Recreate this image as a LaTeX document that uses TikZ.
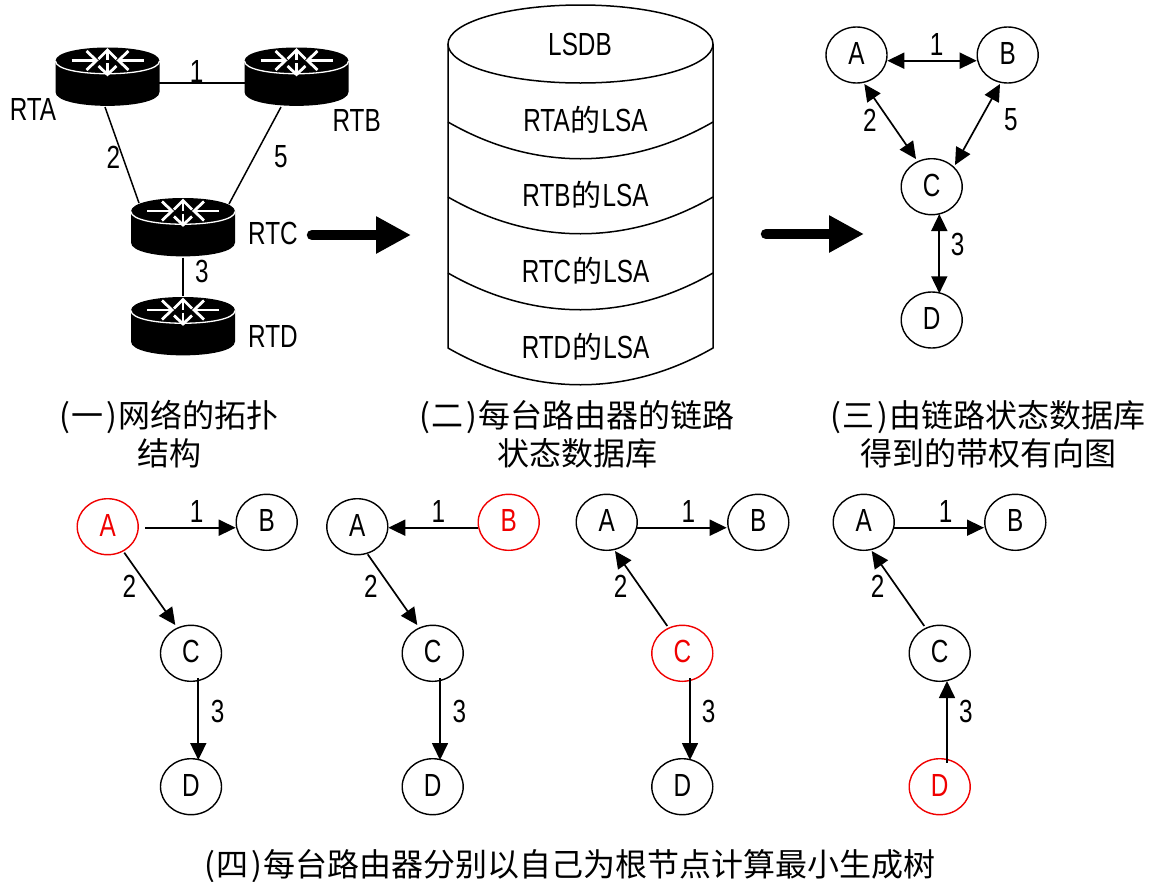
\documentclass[tikz,border=0pt]{standalone}
\usepackage{fontspec}
\setmainfont[FakeStretch=0.76]{Liberation Sans}
\newfontfamily\cjkf{Noto Sans CJK SC}
\usetikzlibrary{arrows.meta,calc,shapes.geometric}
\newcommand\lat{\fontsize{32}{38}\selectfont}
\newcommand\nt[1]{\raisebox{-9.5pt}{#1}}
\newcommand\cn[1]{{\cjkf\fontsize{30}{36}\selectfont\kern1pt #1\kern1pt}}
\newcommand\capfont{\cjkf\fontsize{32}{38}\selectfont}
\newcommand\pnum[1]{(\kern2pt#1\kern2pt)\kern2pt}
\definecolor{rd}{RGB}{240,0,0}
\tikzset{
  x=1pt,y=-1pt,
  every node/.style={font=\lat,inner sep=0pt},
  gn/.style={ellipse,draw=black,line width=1.4pt,minimum width=61pt,minimum height=56pt,text height=0pt,text depth=0pt},
  rn/.style={gn,draw=rd,text=rd},
  routerbox/.style={minimum width=105pt,minimum height=60pt},
  capnode/.style={align=center,font=\capfont},
  link/.style={line width=1.5pt},
  arr/.style={line width=1.7pt,-{Triangle[length=17pt,width=16pt]}},
  darr/.style={line width=1.7pt,{Triangle[length=17pt,width=16pt]}-{Triangle[length=17pt,width=16pt]}},
  bigarr/.style={line width=10.5pt,line cap=round,-{Triangle[length=35pt,width=35pt]}},
  db/.style={line width=1.5pt},
  wht/.style={draw=white,line width=2.8pt},
  router/.pic={
    \fill[black] (-52,-16) -- (-52,15) .. controls (-52,33.5) and (52,33.5) .. (52,15) -- (52,-16)
       .. controls (52,-34) and (-52,-34) .. (-52,-16) -- cycle;
    \draw[draw=white,line width=1.3pt] (-52,-16) .. controls (-52,1) and (52,1) .. (52,-16);
    \draw[wht] (-36,-16.5) -- (-11,-16.5);
    \draw[wht] (-21,-26) -- (-11,-16.5) -- (-21,-7);
    \draw[wht] (36,-16.5) -- (11,-16.5);
    \draw[wht] (21,-26) -- (11,-16.5) -- (21,-7);
    \draw[wht] (0,-27) -- (0,-17);
    \draw[wht] (-9,-18) -- (0,-27) -- (9,-18);
    \draw[wht] (0,-14) -- (0,-2.5);
    \draw[wht] (-9,-11) -- (0,-2.5) -- (9,-11);
  }
}
\begin{document}
\begin{tikzpicture}
\useasboundingbox[fill=white] (0,0) rectangle (1154,881);

% ---- topology
\node[routerbox] (rta) at (107.5,77) {};
\node[routerbox] (rtb) at (296.5,77) {};
\node[routerbox] (rtc) at (183,227.5) {};
\node[routerbox] (rtd) at (183,326.5) {};
\draw[link] ($(rta)+(0,6)$) -- ($(rtb)+(0,6)$);
\draw[link] ($(rta)+(-2.5,30)$) -- ($(rtc)+(-44,-24.5)$);
\draw[link] ($(rtb)+(-15.5,30)$) -- ($(rtc)+(46,-23.5)$);
\draw[link] (rtc) -- (rtd);
\pic at (rta) {router};
\pic at (rtb) {router};
\pic at (rtc) {router};
\pic at (rtd) {router};
\node (lrta) at (33,109) {RTA};
\node (lrtb) at (356.7,120) {RTB};
\node (lrtc) at (273,233.5) {RTC};
\node (lrtd) at (273,336) {RTD};
\node (t1) at (196.7,71.7) {1};
\node (t2) at (113.3,157) {2};
\node (t5) at (281,157) {5};
\node (t3) at (202,271.7) {3};

% ---- big arrows
\coordinate (ba1) at (312,235);
\coordinate (ba2) at (411,235);
\coordinate (bb1) at (766,234);
\coordinate (bb2) at (864,234);
\draw[bigarr] (ba1) -- (ba2);
\draw[bigarr] (bb1) -- (bb2);

% ---- database
\draw[db] (448,44) -- (448,348) .. controls (533,397) and (628,397) .. (713,348) -- (713,44);
\draw[db] (580.5,44) ellipse [x radius=132.5,y radius=39];
\draw[db] (448,122) .. controls (533,171) and (628,171) .. (713,122);
\draw[db] (448,197) .. controls (533,246) and (628,246) .. (713,197);
\draw[db] (448,273) .. controls (533,322) and (628,322) .. (713,273);
\node (dbh) at (580,44) {LSDB};
\node (dba) at (585.5,119.5) {RTA\cn{的}LSA};
\node (dbb) at (585.5,195) {RTB\cn{的}LSA};
\node (dbc) at (585.5,270.5) {RTC\cn{的}LSA};
\node (dbd) at (585.5,346.5) {RTD\cn{的}LSA};

% ---- weighted graph
\node[gn] (ta) at (856.5,55) {\nt{A}};
\node[gn] (tb) at (1007.7,55) {\nt{B}};
\node[gn] (tc) at (931.7,186.7) {\nt{C}};
\node[gn] (td) at (931.7,320) {\nt{D}};
\draw[darr] ($(ta)+(30.8,5.7)$) -- ($(tb)+(-31,5.7)$);
\draw[darr] ($(ta)+(7.8,29)$) -- ($(tc)+(-15.7,-27.7)$);
\draw[darr] ($(tb)+(-7.7,29)$) -- ($(tc)+(23.3,-21.7)$);
\draw[darr] ($(tc)+(7.6,27.3)$) -- ($(td)+(7.6,-26.7)$);
\node (u1) at (936.7,44) {1};
\node (u2) at (870,120.7) {2};
\node (u5) at (1011,120) {5};
\node (u3) at (957.7,244) {3};

% ---- captions
\node[capnode] (c1) at (169,434) {\pnum{一}网络的拓扑\\结构};
\node[capnode] (c2) at (577,434) {\pnum{二}每台路由器的链路\\状态数据库};
\node[capnode] (c3) at (988,434) {\pnum{三}由链路状态数据库\\得到的带权有向图};

% ---- tree A
\node[rn] (aa) at (107.7,526.7) {\nt{A}};
\node[gn] (ab) at (266.7,522.3) {\nt{B}};
\node[gn] (ac) at (191,653.3) {\nt{C}};
\node[gn] (ad) at (191,786.7) {\nt{D}};
\draw[arr] ($(aa)+(37.3,1)$) -- ($(ab)+(-31,5.4)$);
\draw[arr] ($(aa)+(16.6,26)$) -- ($(ac)+(-15.7,-28.3)$);
\draw[arr] ($(ac)+(7.3,24.7)$) -- ($(ad)+(7.3,-26.7)$);
\node (a1) at (196.7,511) {1};
\node (a2) at (129.3,586.7) {2};
\node (a3) at (217.7,711) {3};

% ---- tree B
\node[gn] (ba) at (357.3,526.7) {\nt{A}};
\node[rn] (bb) at (508.7,522.3) {\nt{B}};
\node[gn] (bc) at (432.7,653.3) {\nt{C}};
\node[gn] (bd) at (432.7,786.7) {\nt{D}};
\draw[arr] ($(bb)+(-30.4,5.4)$) -- ($(ba)+(31,1)$);
\draw[arr] ($(ba)+(10.4,27.6)$) -- ($(bc)+(-15.4,-28.3)$);
\draw[arr] ($(bc)+(7.3,24.7)$) -- ($(bd)+(7.3,-26.7)$);
\node (b1) at (438.3,511) {1};
\node (b2) at (371,586.7) {2};
\node (b3) at (459.3,711) {3};

% ---- tree C
\node[gn] (ca) at (606.7,522.3) {\nt{A}};
\node[gn] (cb) at (758.3,522.3) {\nt{B}};
\node[rn] (cc) at (682.3,653.3) {\nt{C}};
\node[gn] (cd) at (682.3,786.7) {\nt{D}};
\draw[arr] ($(ca)+(30.6,5.4)$) -- ($(cb)+(-31.6,5.4)$);
\draw[arr] ($(cc)+(-15,-27.3)$) -- ($(ca)+(8.3,28.7)$);
\draw[arr] ($(cc)+(7.7,24.7)$) -- ($(cd)+(7.7,-26.7)$);
\node (c1l) at (688.3,511) {1};
\node (c2l) at (620.7,586.7) {2};
\node (c3l) at (708.7,711) {3};

% ---- tree D
\node[gn] (da) at (863.7,522.3) {\nt{A}};
\node[gn] (db) at (1015.3,522.3) {\nt{B}};
\node[gn] (dc) at (939.7,653.3) {\nt{C}};
\node[rn] (dd) at (939.7,786.7) {\nt{D}};
\draw[arr] ($(da)+(30.6,5.4)$) -- ($(db)+(-31.3,5.4)$);
\draw[arr] ($(dc)+(-15.4,-27.3)$) -- ($(da)+(8,28.7)$);
\draw[arr] ($(dd)+(7.3,-24)$) -- ($(dc)+(7.3,27.7)$);
\node (d1l) at (945.7,511) {1};
\node (d2l) at (877.7,586.7) {2};
\node (d3l) at (966,711) {3};

\node[capnode] (c4) at (570,866) {\pnum{四}每台路由器分别以自己为根节点计算最小生成树};
\end{tikzpicture}
\end{document}
